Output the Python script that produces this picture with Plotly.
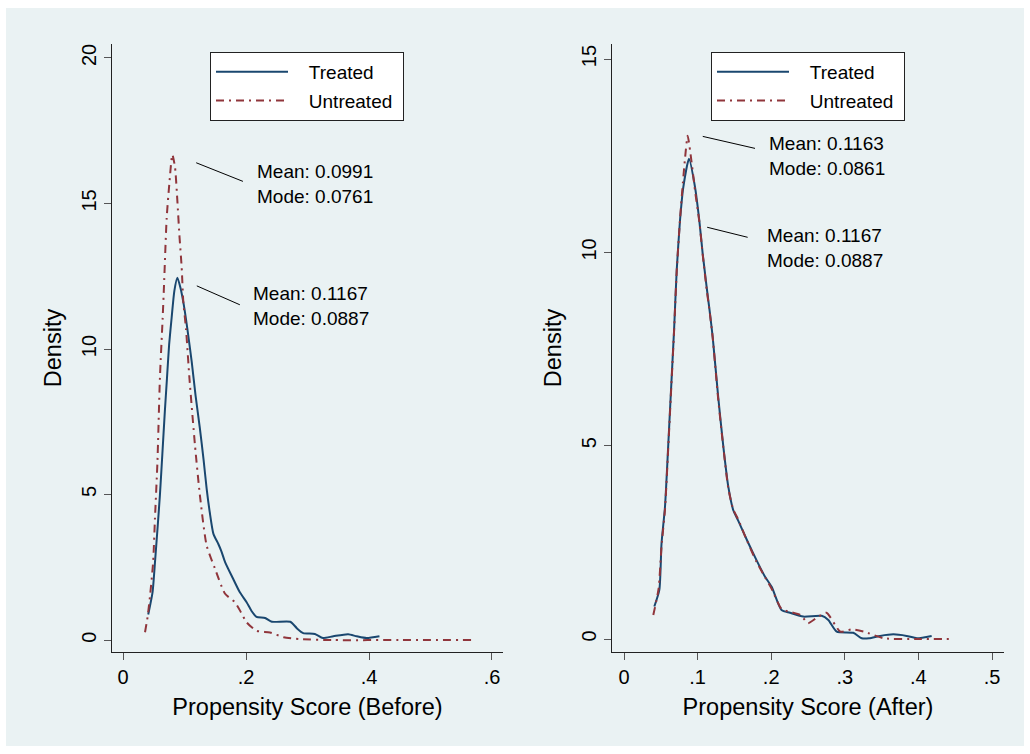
import plotly.graph_objects as go

# ---------------- data ----------------
before_treated_x = [0.041, 0.048, 0.052, 0.056, 0.060, 0.064, 0.068, 0.0715, 0.075, 0.0792,
                    0.0835, 0.0884, 0.0935, 0.099, 0.1046, 0.1117, 0.118, 0.125, 0.131, 0.136,
                    0.141, 0.147, 0.155, 0.160, 0.166, 0.178, 0.190, 0.201, 0.209, 0.217,
                    0.231, 0.242, 0.272, 0.283, 0.293, 0.312, 0.325, 0.342, 0.366, 0.380,
                    0.396, 0.417]
before_treated_y = [0.88, 1.64, 2.68, 3.8, 4.98, 6.4, 7.85, 9.0, 10.15, 11.1,
                    12.0, 12.45, 12.1, 11.5, 10.7, 9.57, 8.4, 7.27, 6.2, 5.2,
                    4.4, 3.65, 3.3, 3.05, 2.68, 2.15, 1.64, 1.3, 1.0, 0.8,
                    0.76, 0.63, 0.63, 0.4, 0.24, 0.21, 0.07, 0.13, 0.2, 0.13,
                    0.07, 0.13]

before_untreated_x = [0.0358, 0.040, 0.044, 0.049, 0.052, 0.056, 0.060, 0.0645, 0.0667, 0.071,
                      0.0753, 0.0802, 0.0846, 0.0884, 0.0916, 0.0954, 0.098, 0.1024, 0.108, 0.117,
                      0.125, 0.136, 0.1496, 0.166, 0.182, 0.192, 0.201, 0.217, 0.239, 0.261,
                      0.288, 0.342, 0.45, 0.567]
before_untreated_y = [0.27, 0.8, 1.53, 2.68, 4.2, 6.13, 9.0, 11.07, 12.2, 14.5,
                      15.67, 16.68, 16.24, 15.09, 13.94, 12.8, 11.64, 10.7, 9.0, 6.7,
                      4.98, 3.25, 2.45, 1.59, 1.3, 0.95, 0.61, 0.32, 0.26, 0.1,
                      0.03, 0.0, 0.0, 0.0]

after_treated_x = [0.0412, 0.048, 0.051, 0.0557, 0.060, 0.0634, 0.068, 0.0716, 0.0761, 0.0806,
                   0.0883, 0.0965, 0.1023, 0.1069, 0.1123, 0.1168, 0.1205, 0.128, 0.135, 0.1417,
                   0.1485, 0.155, 0.167, 0.180, 0.1916, 0.2006, 0.214, 0.2255, 0.2436, 0.2686,
                   0.2776, 0.289, 0.3115, 0.323, 0.333, 0.348, 0.366, 0.384, 0.398, 0.418]
after_treated_y = [0.84, 1.27, 2.47, 3.42, 4.97, 6.26, 7.98, 9.53, 10.83, 11.69,
                   12.42, 11.69, 10.83, 9.97, 9.1, 8.42, 7.81, 6.26, 4.97, 3.94,
                   3.33, 3.07, 2.56, 2.04, 1.61, 1.35, 0.75, 0.68, 0.58, 0.6,
                   0.49, 0.19, 0.16, 0.02, 0.02, 0.08, 0.12, 0.08, 0.02, 0.08]

after_untreated_x = [0.0398, 0.047, 0.051, 0.0557, 0.060, 0.0634, 0.068, 0.0716, 0.0761, 0.080,
                     0.083, 0.0865, 0.090, 0.094, 0.0965, 0.1023, 0.1069, 0.1123, 0.1168, 0.1205,
                     0.128, 0.135, 0.1417, 0.1485, 0.155, 0.167, 0.180, 0.1916, 0.2006, 0.214,
                     0.2255, 0.240, 0.250, 0.262, 0.275, 0.294, 0.310, 0.326, 0.353, 0.40, 0.4475]
after_untreated_y = [0.62, 1.3, 2.4, 3.35, 4.9, 6.2, 7.95, 9.5, 10.85, 11.8,
                     12.45, 13.02, 12.6, 12.0, 11.6, 10.8, 9.95, 9.05, 8.4, 7.8,
                     6.2, 4.95, 3.9, 3.35, 3.1, 2.55, 2.0, 1.6, 1.3, 0.78,
                     0.7, 0.62, 0.41, 0.55, 0.68, 0.19, 0.25, 0.19, 0.02, 0.0, 0.0]

series_names = ["Treated", "Untreated"]

before_xticks = [0, 0.2, 0.4, 0.6]
before_xlabels = ["0", ".2", ".4", ".6"]
before_yticks = [0, 5, 10, 15, 20]
after_xticks = [0, 0.1, 0.2, 0.3, 0.4, 0.5]
after_xlabels = ["0", ".1", ".2", ".3", ".4", ".5"]
after_yticks = [0, 5, 10, 15]

before_notes = ["Mean: 0.0991<br>Mode: 0.0761", "Mean: 0.1167<br>Mode: 0.0887"]
after_notes = ["Mean: 0.1163<br>Mode: 0.0861", "Mean: 0.1167<br>Mode: 0.0887"]

x_titles = ["Propensity Score (Before)", "Propensity Score (After)"]
y_title = "Density"

# ---------------- style ----------------
NAVY = "#1a476f"
MAROON = "#90353b"
BG = "#eaf2f3"
FONT = "Liberation Sans, Arial, sans-serif"
DASHDOT = "8px,5px,2px,5px"
PAD = "\u00a0\u00a0\u00a0"  # visual gap between legend key and label


def legend_label(s):
    return PAD + s + "\u00a0"


fig = go.Figure()

line_shape = dict(shape="spline", smoothing=0.6)

fig.add_trace(go.Scatter(x=before_treated_x, y=before_treated_y, mode="lines",
                         name=legend_label(series_names[0]),
                         line=dict(color=NAVY, width=2, **line_shape),
                         xaxis="x", yaxis="y", legend="legend", legendgroup="a"))
fig.add_trace(go.Scatter(x=before_untreated_x, y=before_untreated_y, mode="lines",
                         name=legend_label(series_names[1]),
                         line=dict(color=MAROON, width=2, dash=DASHDOT, **line_shape),
                         xaxis="x", yaxis="y", legend="legend", legendgroup="b"))
fig.add_trace(go.Scatter(x=after_treated_x, y=after_treated_y, mode="lines",
                         name=legend_label(series_names[0]),
                         line=dict(color=NAVY, width=2, **line_shape),
                         xaxis="x2", yaxis="y2", legend="legend2", legendgroup="c"))
fig.add_trace(go.Scatter(x=after_untreated_x, y=after_untreated_y, mode="lines",
                         name=legend_label(series_names[1]),
                         line=dict(color=MAROON, width=2, dash=DASHDOT, **line_shape),
                         xaxis="x2", yaxis="y2", legend="legend2", legendgroup="d"))

# geometry (px) of the plot regions
ML, MR, MT, MB = 112, 26, 44, 102
PW = 1030 - ML - MR
PH = 754 - MT - MB


def px_x(p):
    return (p - ML) / PW


def px_y(p):
    return (754 - MB - p) / PH


axis_common = dict(showline=True, linecolor="#222", linewidth=1, ticks="outside",
                   ticklen=7, tickwidth=1, tickcolor="#555", zeroline=False,
                   tickfont=dict(size=20, color="#000", family=FONT),
                   mirror=False)
title_font = dict(size=23.5, family=FONT, color="#000")

legend_common = dict(xanchor="left", yanchor="top", bgcolor="white", bordercolor="#222",
                     borderwidth=1, font=dict(size=19, family=FONT, color="#000"),
                     itemwidth=72, tracegroupgap=1)

fig.update_layout(
    width=1030, height=754,
    margin=dict(l=ML, r=MR, t=MT, b=MB),
    paper_bgcolor="white",
    plot_bgcolor="white",
    font=dict(family=FONT, color="#000"),
    xaxis=dict(domain=[0, px_x(503)], range=[-0.0179, 0.6179], tickvals=before_xticks,
               ticktext=before_xlabels, showgrid=False, anchor="y",
               title=dict(text=x_titles[0], font=title_font, standoff=11), **axis_common),
    yaxis=dict(domain=[0, 1], range=[-0.41, 20.48], tickvals=before_yticks, tickangle=-90,
               showgrid=True, gridcolor=BG, gridwidth=1, anchor="x",
               title=dict(text=y_title, font=title_font, standoff=9), **axis_common),
    xaxis2=dict(domain=[px_x(612), 1], range=[-0.0163, 0.5163], tickvals=after_xticks,
                ticktext=after_xlabels, showgrid=False, anchor="y2",
                title=dict(text=x_titles[1], font=title_font, standoff=11), **axis_common),
    yaxis2=dict(domain=[0, 1], range=[-0.336, 15.39], tickvals=after_yticks, tickangle=-90,
                showgrid=True, gridcolor=BG, gridwidth=1, anchor="x2",
                title=dict(text=y_title, font=title_font, standoff=9), **axis_common),
    legend=dict(x=px_x(210), y=px_y(52), **legend_common),
    legend2=dict(x=px_x(711), y=px_y(52), **legend_common),
    showlegend=True,
)

# outer light background panel
fig.add_shape(type="rect", xref="paper", yref="paper",
              x0=px_x(6), x1=px_x(1024), y0=px_y(746), y1=px_y(8),
              fillcolor=BG, line=dict(width=0), layer="below")

# annotations with leader lines (data coordinates)
notes = [
    ("x", "y", 0.2145, 15.66, before_notes[0], (0.119, 16.4, 0.195, 15.76)),
    ("x", "y", 0.208, 11.48, before_notes[1], (0.120, 12.17, 0.190, 11.52)),
    ("x2", "y2", 0.194, 12.5, after_notes[0], (0.107, 13.0, 0.178, 12.69)),
    ("x2", "y2", 0.192, 10.12, after_notes[1], (0.113, 10.65, 0.168, 10.39)),
]
for xr, yr, tx, ty, txt, (lx0, ly0, lx1, ly1) in notes:
    fig.add_annotation(x=tx, y=ty, xref=xr, yref=yr, text=txt, showarrow=False,
                       xanchor="left", yanchor="middle", align="left",
                       font=dict(size=19, family=FONT, color="#000"))
    fig.add_shape(type="line", xref=xr, yref=yr, x0=lx0, y0=ly0, x1=lx1, y1=ly1,
                  line=dict(color="#000", width=1))

fig.write_html("out.html")
